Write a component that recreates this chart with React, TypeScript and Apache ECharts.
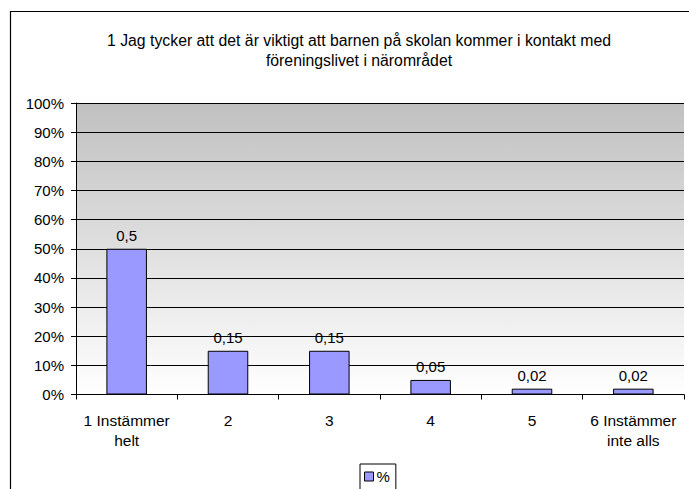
import React, { useEffect, useRef } from 'react';
import * as echarts from 'echarts';

const categories = ['1 Instämmer\nhelt', '2', '3', '4', '5', '6 Instämmer\ninte alls'];
const values = [0.5, 0.15, 0.15, 0.05, 0.02, 0.02];
const seriesName = '%';
const titleText = '1 Jag tycker att det är viktigt att barnen på skolan kommer i kontakt med\nföreningslivet i närområdet';

export default function App() {
  const ref = useRef<HTMLDivElement>(null);
  useEffect(() => {
    if (!ref.current) return;
    const chart = echarts.init(ref.current, null, { renderer: 'svg' });
    const font = 'Liberation Sans, Arial, sans-serif';
    chart.setOption({
      animation: false,
      backgroundColor: '#ffffff',
      textStyle: { fontFamily: font },
      title: {
        text: titleText,
        left: 354,
        top: 25,
        textAlign: 'center',
        textStyle: { fontFamily: font, fontSize: 15.8, fontWeight: 'normal', color: '#000', lineHeight: 20 },
      },
      graphic: [
        {
          type: 'rect',
          shape: { x: 10.5, y: 11.5, width: 700, height: 500 },
          style: { fill: 'none', stroke: '#000', lineWidth: 1.2 },
          silent: true,
        },
      ],
      legend: {
        data: [seriesName],
        left: 360,
        top: 464,
        icon: 'rect',
        itemWidth: 9,
        itemHeight: 9,
        itemGap: 4,
        borderColor: '#000',
        borderWidth: 1,
        padding: [5, 6, 6, 4],
        textStyle: { fontFamily: font, fontSize: 15, color: '#000', padding: [0, 0, 0, -2] },
        itemStyle: { borderColor: '#000', borderWidth: 1 },
      },
      grid: {
        left: 76,
        right: 5,
        top: 103,
        bottom: 94.5,
        show: true,
        borderWidth: 0,
        backgroundColor: new echarts.graphic.LinearGradient(0, 0, 0, 1, [
          { offset: 0, color: '#c0c0c0' },
          { offset: 1, color: '#ffffff' },
        ]),
      },
      xAxis: {
        type: 'category',
        data: categories,
        boundaryGap: true,
        axisLine: { lineStyle: { color: '#000', width: 1 } },
        axisTick: { show: true, length: 5, lineStyle: { color: '#000' } },
        axisLabel: { color: '#000', fontSize: 15.5, lineHeight: 20, margin: 16, fontFamily: font, interval: 0 },
      },
      yAxis: {
        type: 'value',
        min: 0,
        max: 1,
        interval: 0.1,
        axisLine: { show: true, lineStyle: { color: '#000', width: 1 } },
        axisTick: { show: true, length: 5, lineStyle: { color: '#000' } },
        axisLabel: {
          color: '#000',
          fontSize: 15,
          margin: 12,
          fontFamily: font,
          formatter: (v: number) => Math.round(v * 100) + '%',
        },
        splitLine: { show: true, lineStyle: { color: '#000', width: 1 } },
      },
      series: [
        {
          name: seriesName,
          type: 'bar',
          data: values,
          barWidth: '40%',
          itemStyle: { color: '#9999ff', borderColor: '#000', borderWidth: 1 },
          label: {
            show: true,
            position: 'top',
            distance: 6,
            color: '#000',
            fontSize: 15,
            fontFamily: font,
            formatter: (p: any) => String(p.value).replace('.', ','),
          },
        },
      ],
    });
    return () => chart.dispose();
  }, []);
  return (
    <div
      ref={ref}
      style={{ position: 'absolute', left: 0, top: 0, width: 689, height: 489 }}
    />
  );
}
